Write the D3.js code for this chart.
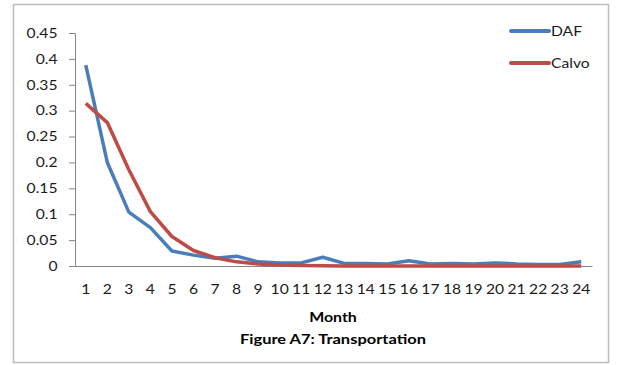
<!DOCTYPE html>
<html><head><meta charset="utf-8">
<script src="https://cdn.jsdelivr.net/npm/d3@7"></script>
<style>body{margin:0;background:#fff}svg{display:block}text{font-family:Lato,"Open Sans",sans-serif}</style>
</head><body><svg id="c" width="618" height="365"></svg>
<script>
const months = d3.range(1, 25).map(String);
const daf = [0.388,0.200,0.104,0.074,0.029,0.021,0.015,0.019,0.008,0.006,0.006,0.017,0.005,0.005,0.004,0.010,0.004,0.005,0.004,0.006,0.004,0.003,0.003,0.008];
const calvo = [0.314,0.277,0.186,0.105,0.057,0.030,0.016,0.008,0.004,0.002,0.001,0.0005,0,0,0,0,0,0,0,0,0,0,0,0];
const yTicks = [0,0.05,0.1,0.15,0.2,0.25,0.3,0.35,0.4,0.45];
const seriesNames = ["DAF","Calvo"];
const colors = ["#4a7ebb","#be4b48"];

function stretch(sel, s){
  sel.each(function(){
    const x = +(this.getAttribute("x")||0);
    this.setAttribute("transform", `translate(${x*(1-s)},0) scale(${s},1)`);
  });
}

const svg = d3.select("#c");
svg.append("rect").attr("x",13.5).attr("y",4.5).attr("width",595).attr("height",358)
  .attr("fill","#fff").attr("stroke","#bdbdbd").attr("stroke-width",1.5);

const x = d3.scaleBand().domain(months).range([75,592]);
const y = d3.scaleLinear().domain([0,0.45]).range([266,33]);

const yAxis = svg.append("g").attr("transform","translate(75,0)")
  .call(d3.axisLeft(y).tickValues(yTicks).tickSize(6).tickPadding(11.5).tickFormat(d=>d===0?"0":String(+d.toFixed(2))));
yAxis.select(".domain").attr("stroke","#868686");
yAxis.selectAll(".tick line").attr("stroke","#868686");
yAxis.selectAll("text").attr("fill","#1a1a1a").style("font-size","13.5px").call(stretch,1.16);

const xAxis = svg.append("g").attr("transform","translate(0,266)")
  .call(d3.axisBottom(x).tickSize(0).tickPadding(18));
xAxis.select(".domain").attr("stroke","#868686");
xAxis.selectAll("text").attr("fill","#1a1a1a").style("font-size","13.5px").call(stretch,1.16);

const line = d3.line().x((d,i)=>x(months[i])+x.bandwidth()/2).y(d=>y(d));
[daf,calvo].forEach((s,k)=>{
  svg.append("path").datum(s).attr("d",line).attr("fill","none")
    .attr("stroke",colors[k]).attr("stroke-width",3.5).attr("stroke-linejoin","round");
});
seriesNames.forEach((n,k)=>{
  const ly = 31 + k*32;
  svg.append("line").attr("x1",511).attr("x2",549).attr("y1",ly).attr("y2",ly)
    .attr("stroke",colors[k]).attr("stroke-width",4).attr("stroke-linecap","round");
  svg.append("text").attr("x",551).attr("y",ly).attr("dy","0.35em").attr("fill","#1a1a1a")
    .style("font-size","13.5px").text(n).call(stretch,1.16);
});
svg.append("text").attr("x",333).attr("y",317).attr("dy","0.35em").attr("text-anchor","middle")
  .style("font-size","13.5px").style("font-weight","bold").attr("fill","#000").text("Month").call(stretch,1.18);
svg.append("text").attr("x",333).attr("y",339).attr("dy","0.35em").attr("text-anchor","middle")
  .style("font-size","13.5px").style("font-weight","bold").attr("fill","#000").text("Figure A7: Transportation").call(stretch,1.22);
</script></body></html>
